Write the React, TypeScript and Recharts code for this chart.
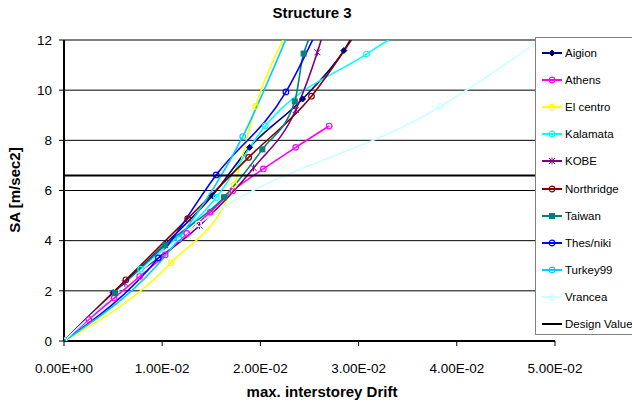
import React from "react";
import {
  LineChart,
  Line,
  XAxis,
  YAxis,
  CartesianGrid,
  ReferenceLine,
} from "recharts";

// axis ticks
const xTicks = [0, 0.01, 0.02, 0.03, 0.04, 0.05];
const xTickLabels = ["0.00E+00", "1.00E-02", "2.00E-02", "3.00E-02", "4.00E-02", "5.00E-02"];
const yTicks = [0, 2, 4, 6, 8, 10, 12];

// max. interstorey drift (x) and SA (y) per record
const aigionDrift = [0, 0.005, 0.0103, 0.0151, 0.0189, 0.0243, 0.0285, 0.0312];
const aigionSA = [0, 1.93, 3.86, 5.79, 7.72, 9.65, 11.58, 13.51];

const athensDrift = [0, 0.00253, 0.0051, 0.0077, 0.0103, 0.0125, 0.0149, 0.0172, 0.0203, 0.0236, 0.027];
const athensSA = [0, 0.86, 1.71, 2.57, 3.43, 4.29, 5.14, 6.0, 6.86, 7.72, 8.57];

const elCentroDrift = [0, 0.0109, 0.0173, 0.0195, 0.0229];
const elCentroSA = [0, 3.12, 6.23, 9.35, 12.46];

const kalamataDrift = [0, 0.0078, 0.0155, 0.0205, 0.0308, 0.043];
const kalamataSA = [0, 2.86, 5.72, 8.58, 11.44, 14.3];

const kobeDrift = [0, 0.0062, 0.0138, 0.0193, 0.0236, 0.0258, 0.0275];
const kobeSA = [0, 2.3, 4.6, 6.9, 9.21, 11.51, 13.81];

const northridgeDrift = [0, 0.0063, 0.0126, 0.0188, 0.0252, 0.0296];
const northridgeSA = [0, 2.44, 4.88, 7.32, 9.76, 12.2];

const taiwanDrift = [0, 0.0052, 0.0103, 0.0163, 0.0202, 0.0235, 0.0244, 0.0275];
const taiwanSA = [0, 1.91, 3.82, 5.73, 7.64, 9.55, 11.46, 13.37];

const thesnikiDrift = [0, 0.0096, 0.0155, 0.0226, 0.0268];
const thesnikiSA = [0, 3.31, 6.62, 9.93, 13.24];

const turkeyDrift = [0, 0.0117, 0.0182, 0.0228];
const turkeySA = [0, 4.08, 8.15, 12.23];

const vranceaDrift = [0, 0.0137, 0.0383, 0.0555];
const vranceaSA = [0, 4.67, 9.34, 14.01];

const designValue = 6.6;

const zip = (xs: number[], ys: number[]) => xs.map((x, i) => ({ x, y: ys[i] }));

type Shape = "diamond" | "circle" | "star" | "square" | "none";

const series = [
  { name: "Aigion", color: "#000080", shape: "diamond" as Shape, data: zip(aigionDrift, aigionSA) },
  { name: "Athens", color: "#FF00FF", shape: "circle" as Shape, data: zip(athensDrift, athensSA) },
  { name: "El centro", color: "#FFFF00", shape: "circle" as Shape, data: zip(elCentroDrift, elCentroSA) },
  { name: "Kalamata", color: "#00FFFF", shape: "circle" as Shape, data: zip(kalamataDrift, kalamataSA) },
  { name: "KOBE", color: "#800080", shape: "star" as Shape, data: zip(kobeDrift, kobeSA) },
  { name: "Northridge", color: "#800000", shape: "circle" as Shape, data: zip(northridgeDrift, northridgeSA) },
  { name: "Taiwan", color: "#008080", shape: "square" as Shape, data: zip(taiwanDrift, taiwanSA) },
  { name: "Thes/niki", color: "#0000FF", shape: "circle" as Shape, data: zip(thesnikiDrift, thesnikiSA) },
  { name: "Turkey99", color: "#00CCFF", shape: "circle" as Shape, data: zip(turkeyDrift, turkeySA) },
  { name: "Vrancea", color: "#CCFFFF", shape: "circle" as Shape, data: zip(vranceaDrift, vranceaSA) },
];

const designData = [
  { x: 0, y: designValue },
  { x: 0.05, y: designValue },
];

function Marker({ cx, cy, shape, color }: { cx: number; cy: number; shape: Shape; color: string }) {
  if (shape === "diamond")
    return <path d={`M${cx},${cy - 3}L${cx + 3},${cy}L${cx},${cy + 3}L${cx - 3},${cy}Z`} fill={color} stroke={color} />;
  if (shape === "square")
    return <rect x={cx - 2.5} y={cy - 2.5} width={5} height={5} fill={color} stroke={color} />;
  if (shape === "star")
    return (
      <path
        d={`M${cx - 3},${cy - 3}L${cx + 3},${cy + 3}M${cx - 3},${cy + 3}L${cx + 3},${cy - 3}M${cx},${cy - 3.5}L${cx},${cy + 3.5}`}
        stroke={color}
        strokeWidth={1}
      />
    );
  if (shape === "circle") return <circle cx={cx} cy={cy} r={2.8} fill="none" stroke={color} strokeWidth={1.2} />;
  return null;
}

const makeDot = (shape: Shape, color: string) => (p: any) => {
  const { cx, cy, key } = p;
  if (cx == null || cy == null) return <g key={key} />;
  return (
    <g key={key}>
      <Marker cx={cx} cy={cy} shape={shape} color={color} />
    </g>
  );
};

const font = "'Liberation Sans', Arial, sans-serif";

export default function App() {
  return (
    <div style={{ position: "absolute", left: 0, top: 0, width: 632, height: 403, background: "#fff", fontFamily: font }}>
      <LineChart
        width={632}
        height={403}
        margin={{ top: 40, right: 77, bottom: 32, left: 0 }}
      >
        <CartesianGrid horizontal vertical={false} stroke="#000" strokeWidth={1} />
        <XAxis
          type="number"
          dataKey="x"
          domain={[0, 0.05]}
          ticks={xTicks}
          allowDataOverflow
          height={30}
          tickSize={5}
          tickMargin={17}
          tickFormatter={(v: number) => xTickLabels[xTicks.indexOf(v)] ?? ""}
          tick={{ fontSize: 13.5, fill: "#000", fontFamily: font }}
          axisLine={{ stroke: "#000", strokeWidth: 2 }}
          tickLine={{ stroke: "#000" }}
        />
        <YAxis
          type="number"
          dataKey="y"
          domain={[0, 12]}
          ticks={yTicks}
          allowDataOverflow
          width={64}
          tickSize={5}
          tickMargin={7}
          tick={{ fontSize: 13.5, fill: "#000", fontFamily: font }}
          axisLine={{ stroke: "#000", strokeWidth: 2 }}
          tickLine={{ stroke: "#000" }}
        />
        <ReferenceLine y={12} stroke="#808080" strokeWidth={1} />
        {series.map((s) => (
          <Line
            key={s.name}
            data={s.data}
            dataKey="y"
            name={s.name}
            type="monotone"
            stroke={s.color}
            strokeWidth={1.6}
            dot={makeDot(s.shape, s.color)}
            activeDot={false}
            isAnimationActive={false}
          />
        ))}
        <Line
          data={designData}
          dataKey="y"
          name="Design Value"
          type="linear"
          stroke="#000"
          strokeWidth={2}
          dot={false}
          activeDot={false}
          isAnimationActive={false}
        />
      </LineChart>

      <div style={{ position: "absolute", left: 0, width: 624, top: 4, textAlign: "center", fontWeight: "bold", fontSize: 15 }}>
        Structure 3
      </div>
      <div style={{ position: "absolute", left: 72, width: 500, top: 383, textAlign: "center", fontWeight: "bold", fontSize: 15 }}>
        max. interstorey Drift
      </div>
      <div
        style={{
          position: "absolute",
          left: 14,
          top: 190,
          transform: "translate(-50%, -50%) rotate(-90deg)",
          whiteSpace: "nowrap",
          fontWeight: "bold",
          fontSize: 15,
        }}
      >
        SA [m/sec2]
      </div>

      <div
        style={{
          position: "absolute",
          left: 535,
          top: 37,
          width: 100,
          height: 298,
          border: "1px solid #808080",
          background: "#fff",
          boxSizing: "border-box",
        }}
      >
        {[...series.map((s) => ({ name: s.name, color: s.color, shape: s.shape })), { name: "Design Value", color: "#000", shape: "none" as Shape }].map(
          (s, i) => (
            <div key={s.name} style={{ position: "absolute", left: 5, top: 6 + i * 27.1, height: 18, display: "flex", alignItems: "center" }}>
              <svg width={22} height={18} style={{ display: "block" }}>
                <line x1={1} y1={9} x2={21} y2={9} stroke={s.color} strokeWidth={2} />
                <Marker cx={11} cy={9} shape={s.shape} color={s.color} />
              </svg>
              <span style={{ fontSize: 11.5, marginLeft: 2, whiteSpace: "nowrap" }}>{s.name}</span>
            </div>
          )
        )}
      </div>
    </div>
  );
}
